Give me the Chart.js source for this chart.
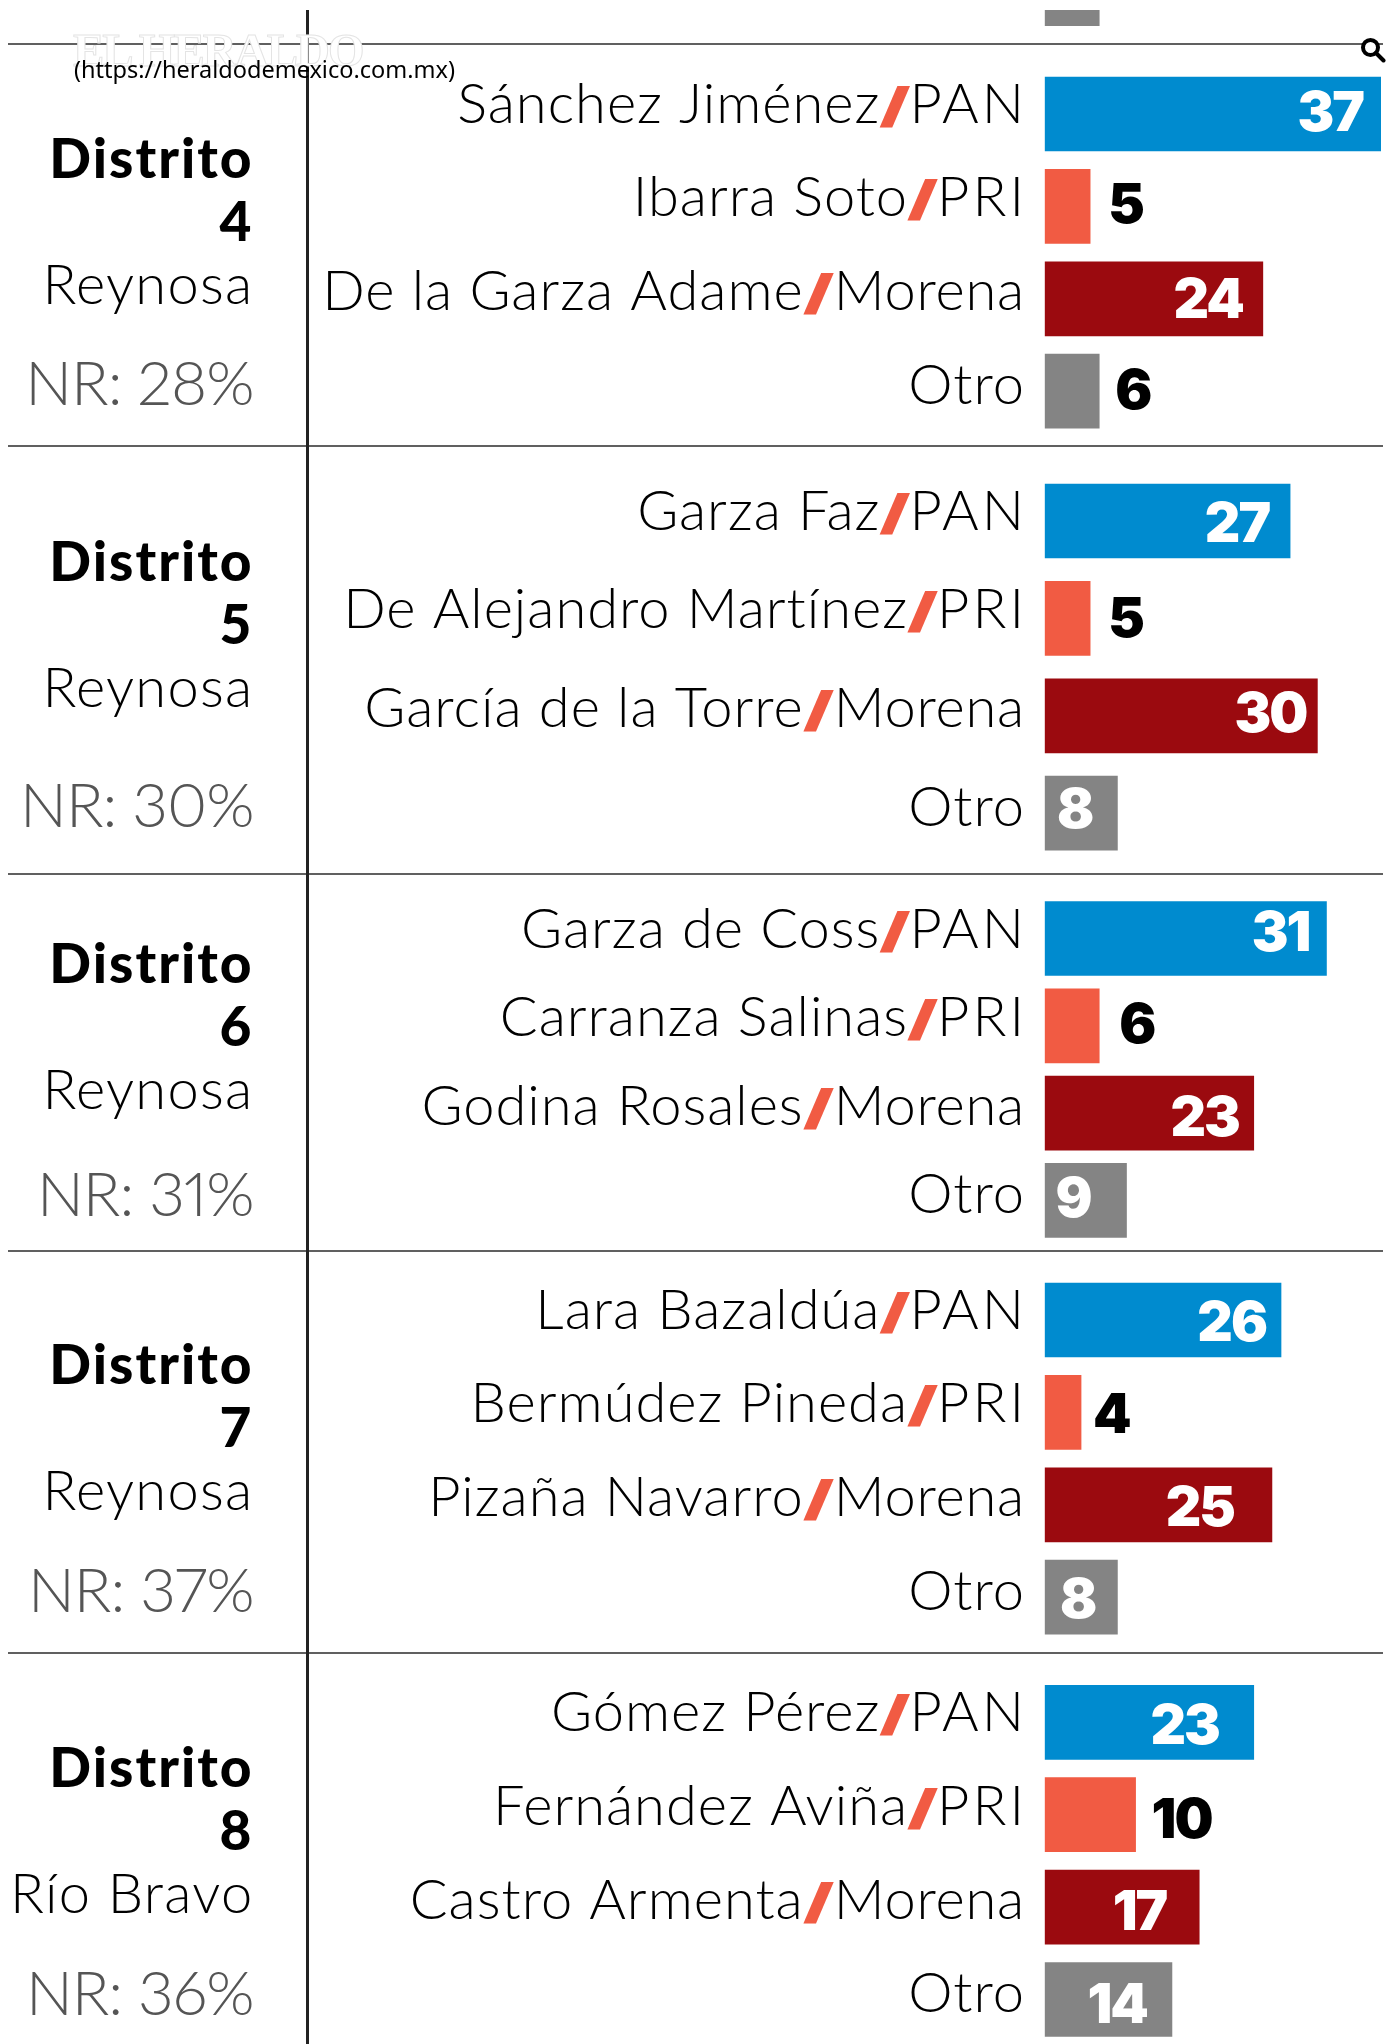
<!DOCTYPE html>
<html lang="es">
<head>
<meta charset="utf-8">
<title>Encuesta por distrito</title>
<script src="https://cdn.jsdelivr.net/npm/chart.js@4"></script>
<style>
html,body{margin:0;padding:0;background:#fff}
#stage{position:relative;width:1396px;height:2044px;overflow:hidden;background:#fff}
canvas{position:absolute;left:0}
.rule{position:absolute;left:8px;width:1375px;height:2px;background:#606060}
#vline{position:absolute;left:306px;top:10px;width:3px;bottom:0;background:#222}
.t{position:absolute;right:1142.5px;white-space:nowrap;line-height:1;text-align:right}
.d{font:900 55px Lato;color:#000;letter-spacing:2px}
.p{font:300 56px Lato;color:#000;letter-spacing:1.3px}
.nr{font:300 62px Lato;color:#555;letter-spacing:-1px;font-variant-numeric:proportional-nums;font-feature-settings:"pnum" 1}
#logo{position:absolute;left:73px;top:23px;font:700 47px "Liberation Serif";color:#fff;white-space:nowrap;letter-spacing:-2px;-webkit-text-stroke:1px #e4e4e4}
#url{position:absolute;left:74px;top:53px;font:23.5px "Noto Sans";color:#000;white-space:nowrap}
#search{position:absolute;left:1360px;top:37px}
</style>
</head>
<body>
<div id="stage"></div>
<script>
// ---------- data ----------
const parties = ['PAN','PRI','Morena','Otro'];
const districts = ['4','5','6','7','8'];
const places = ['Reynosa','Reynosa','Reynosa','Reynosa','Río Bravo'];
const noResponse = [28,30,31,37,36];

const namesD4 = ['Sánchez Jiménez','Ibarra Soto','De la Garza Adame','Otro'];
const namesD5 = ['Garza Faz','De Alejandro Martínez','García de la Torre','Otro'];
const namesD6 = ['Garza de Coss','Carranza Salinas','Godina Rosales','Otro'];
const namesD7 = ['Lara Bazaldúa','Bermúdez Pineda','Pizaña Navarro','Otro'];
const namesD8 = ['Gómez Pérez','Fernández Aviña','Castro Armenta','Otro'];

const valuesD4 = [37,5,24,6];
const valuesD5 = [27,5,30,8];
const valuesD6 = [31,6,23,9];
const valuesD7 = [26,4,25,8];
const valuesD8 = [23,10,17,14];
const previousOtro = [6];

const allNames = [namesD4,namesD5,namesD6,namesD7,namesD8];
const allValues = [valuesD4,valuesD5,valuesD6,valuesD7,valuesD8];

// ---------- styles & layout ----------
const barColors = ['#008BCF','#F15B43','#9B0A0F','#848484'];
const slashColor = '#F15B43';
const axisMax = 37;
const barLeft = 1044.7, barRight = 1381, labelRight = 1025;
const rowFirst = [114,521,938.5,1320,1722.3];   // first row centre in each block
const rowStep  = [92.4,97.4,87.3,92.4,92.4];
const ruleY = [43,445,873,1250,1652];
const distritoBase = [177,580,982,1383,1786];
const nrBase = [404,826,1215,1611,2014];
const nameDy = [9,10,11.5,12.5];
// per-label gap from bar end and vertical shift
const labelGap = [[18,18,20,16],[21,18,11,25],[17,20,15,36],[15,12,38,22],[35,16,33,25]];
const labelDy  = [[-3,-3,-1,-2],[1,-1,-4,-5],[-8,-3,3,-3],[1,1,1,1],[2,3,3,3]];
const labelInside = [[1,0,1,0],[1,0,1,1],[1,0,1,1],[1,0,1,1],[1,0,1,1]];

const stage = document.getElementById('stage');
function el(tag,cls,text,css){
  const e=document.createElement(tag);
  if(cls) e.className=cls;
  if(text!==undefined) e.textContent=text;
  if(css) e.style.cssText=css;
  stage.appendChild(e); return e;
}
function side(cls,text,base,size){ el('div','t '+cls,text,'top:'+(base-size*0.97)+'px'); }

ruleY.forEach(y=>el('div','rule',undefined,'top:'+y+'px'));
el('div',null,undefined).id='vline';

districts.forEach((d,i)=>{
  side('d','Distrito',distritoBase[i],55);
  side('d',d,distritoBase[i]+63.5,55);
  side('p',places[i],distritoBase[i]+126,56);
  side('nr','NR: '+noResponse[i]+'%',nrBase[i],62);
});

const nameFont = '300 56px Lato';
const slashFont = '900 54px Inter';
const valueFont = '900 55px Inter';
const slashScaleX = 1.4, slashScaleY = 0.88;

const namesPlugin = {
  id:'rowText',
  afterDatasetsDraw(chart,args,opts){
    if(!opts.names) return;
    const ctx=chart.ctx, yS=chart.scales.y, xS=chart.scales.x;
    ctx.save();
    ctx.textBaseline='alphabetic';
    chart.data.labels.forEach((cat,i)=>{
      const y=yS.getPixelForTick(i);
      const base=y+nameDy[i];
      ctx.textAlign='left';
      ctx.fillStyle='#000';
      ctx.font=nameFont;
      let x=labelRight;
      if(i<3){
        const party=parties[i];
        const shortParty=party.length===3;
        const slashAdvance=shortParty?29:30;
        if(shortParty) x+=2;
        ctx.letterSpacing=shortParty?'3px':'0.8px';
        x-=ctx.measureText(party).width;
        ctx.fillText(party,x,base);
        ctx.letterSpacing='0px';
        ctx.font=slashFont;
        const w=ctx.measureText('/').width*slashScaleX;
        x-=slashAdvance;
        ctx.save();
        ctx.fillStyle=slashColor;
        ctx.translate(x+(slashAdvance-w)/2,base-1);
        ctx.scale(slashScaleX,slashScaleY);
        ctx.fillText('/',0,0);
        ctx.restore();
        ctx.font=nameFont;
      }
      ctx.letterSpacing='1px';
      x-=ctx.measureText(cat).width;
      ctx.fillText(cat,x,base);

      ctx.letterSpacing='-2px';
      const v=chart.data.datasets[0].data[i];
      const end=xS.getPixelForValue(v);
      ctx.font=valueFont;
      const inside=opts.inside[i];
      ctx.fillStyle=inside?'#fff':'#000';
      ctx.textAlign=inside?'right':'left';
      const gap=opts.gaps[i];
      ctx.fillText(String(v),inside?end-gap:end+gap,y+20+opts.dy[i]);
    });
    ctx.restore();
  }
};

function makeChart(top,height,pad,labels,values,colors,thick,pluginOpts){
  const c=document.createElement('canvas');
  c.width=1396; c.height=height;
  c.style.top=top+'px';
  stage.appendChild(c);
  return new Chart(c,{
    type:'bar',
    data:{labels:labels,datasets:[{data:values,backgroundColor:colors,borderWidth:0,barThickness:thick,categoryPercentage:1,barPercentage:1}]},
    options:{
      indexAxis:'y',responsive:false,animation:false,devicePixelRatio:1,
      layout:{padding:{left:barLeft,right:1396-barRight,top:pad[0],bottom:pad[1]}},
      scales:{
        x:{type:'linear',display:false,min:0,max:axisMax},
        y:{type:'category',display:false,grid:{display:false}}
      },
      plugins:{legend:{display:false},tooltip:{enabled:false},rowText:pluginOpts}
    },
    plugins:[namesPlugin]
  });
}

// cropped block from the previous page section
makeChart(10,16,[0,0],['Otro'],previousOtro,[barColors[3]],16,{});

allValues.forEach((vals,g)=>{
  const step=rowStep[g];
  const exactTop=rowFirst[g]-step/2;
  const top=Math.floor(exactTop);
  const h=Math.ceil(step*4)+2;
  const padTop=exactTop-top;
  makeChart(top,h,[padTop,h-padTop-step*4],allNames[g],vals,barColors,74,{names:true,gaps:labelGap[g],dy:labelDy[g],inside:labelInside[g]});
});

el('div',null,'EL HERALDO').id='logo';
el('div',null,'(https://heraldodemexico.com.mx)').id='url';
const s=document.createElementNS('http://www.w3.org/2000/svg','svg');
s.setAttribute('id','search');s.setAttribute('width','26');s.setAttribute('height','26');s.setAttribute('viewBox','0 0 26 26');
s.innerHTML='<circle cx="10.5" cy="10.5" r="7.5" fill="#fff" stroke="#000" stroke-width="4"/><line x1="16" y1="16" x2="23.5" y2="23.5" stroke="#000" stroke-width="4" stroke-linecap="round"/>';
stage.appendChild(s);
</script>
</body>
</html>
